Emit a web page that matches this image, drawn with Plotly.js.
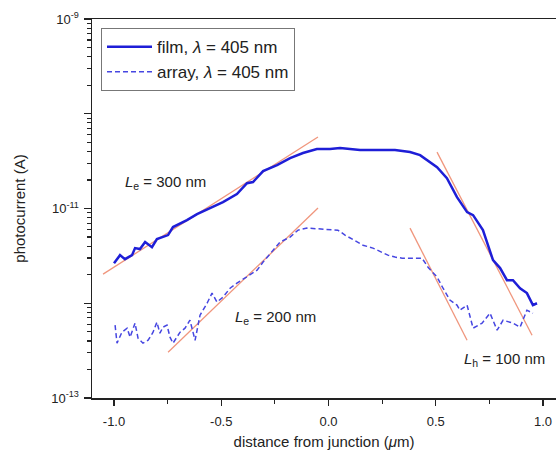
<!DOCTYPE html>
<html>
<head>
<meta charset="utf-8">
<script src="https://cdn.plot.ly/plotly-3.0.1.min.js"></script>
<style>html,body{margin:0;padding:0;background:#fff;}#chart{width:556px;height:455px;}</style>
</head>
<body>
<div id="chart"></div>
<script>
// distance from junction (µm) and photocurrent (A)
const filmX = [-1.000,-0.972,-0.949,-0.916,-0.902,-0.879,-0.855,-0.823,-0.800,-0.772,-0.748,-0.725,-0.660,-0.613,-0.552,-0.492,-0.427,-0.380,-0.352,-0.305,-0.240,-0.179,-0.119,-0.054,0.007,0.054,0.147,0.240,0.310,0.380,0.427,0.506,0.552,0.599,0.646,0.674,0.720,0.767,0.800,0.832,0.860,0.893,0.925,0.953,0.972];
const filmY = [2.65e-12,3.22e-12,2.92e-12,3.22e-12,3.82e-12,3.73e-12,4.42e-12,3.91e-12,4.75e-12,4.99e-12,5.24e-12,6.37e-12,7.54e-12,8.73e-12,1.01e-11,1.17e-11,1.42e-11,1.85e-11,1.90e-11,2.48e-11,2.87e-11,3.40e-11,3.85e-11,4.24e-11,4.24e-11,4.35e-11,4.14e-11,4.14e-11,4.14e-11,3.94e-11,3.66e-11,2.73e-11,2.09e-11,1.32e-11,9.16e-12,8.51e-12,5.91e-12,2.85e-12,2.35e-12,1.75e-12,1.75e-12,1.44e-12,1.28e-12,9.55e-13,1.00e-12];

const arrayX = [-0.995,-0.986,-0.963,-0.939,-0.925,-0.902,-0.888,-0.865,-0.841,-0.818,-0.800,-0.786,-0.772,-0.753,-0.739,-0.725,-0.692,-0.669,-0.646,-0.622,-0.599,-0.566,-0.543,-0.520,-0.492,-0.459,-0.427,-0.380,-0.333,-0.305,-0.226,-0.179,-0.142,-0.100,-0.026,0.044,0.077,0.161,0.207,0.277,0.310,0.343,0.394,0.436,0.464,0.506,0.534,0.566,0.599,0.613,0.646,0.674,0.716,0.753,0.786,0.814,0.860,0.893,0.925,0.953];
const arrayY = [5.87e-13,3.79e-13,4.95e-13,5.46e-13,4.39e-13,6.17e-13,4.28e-13,3.79e-13,4.07e-13,4.95e-13,6.31e-13,4.83e-13,5.58e-13,5.87e-13,4.39e-13,3.79e-13,4.95e-13,5.46e-13,6.62e-13,4.07e-13,7.48e-13,1.00e-12,1.28e-12,1.03e-12,1.16e-12,1.44e-12,1.63e-12,1.89e-12,2.23e-12,2.72e-12,4.42e-12,4.99e-12,5.91e-12,6.21e-12,6.05e-12,5.91e-12,5.24e-12,4.10e-12,3.82e-12,3.22e-12,3.07e-12,2.99e-12,2.99e-12,2.99e-12,2.40e-12,1.89e-12,1.44e-12,1.08e-12,9.55e-13,8.45e-13,9.55e-13,5.46e-13,6.17e-13,7.85e-13,5.20e-13,6.62e-13,6.17e-13,5.58e-13,8.45e-13,7.85e-13];

// exponential fit lines (end points)
const fitFilmLeftX = [-1.051, -0.049];
const fitFilmLeftY = [2.03e-12, 5.68e-11];
const fitArrayLeftX = [-0.748, -0.049];
const fitArrayLeftY = [3.04e-13, 1.01e-11];
const fitFilmRightX = [0.506, 0.949];
const fitFilmRightY = [3.94e-11, 4.60e-13];
const fitArrayRightX = [0.380, 0.646];
const fitArrayRightY = [6.21e-12, 4.07e-13];

const xTickVals = [-1.0, -0.5, 0.0, 0.5, 1.0];
const xTickText = ['-1.0', '-0.5', '0.0', '0.5', '1.0'];
const yTickVals = [1e-13, 1e-12, 1e-11, 1e-10, 1e-9];
const yTickText = ['10<sup>-13</sup>', '', '10<sup>-11</sup>', '', '10<sup>-9</sup>'];

const legendNames = ['film, <i>λ</i> = 405 nm', 'array, <i>λ</i> = 405 nm'];

const FONT = 'Liberation Sans, Arial, sans-serif';
const fitColor = 'rgb(240,150,125)';

const yMinor = [];
for (let e = -13; e < -9; e++) {
  for (let m = 2; m <= 9; m++) yMinor.push(m * Math.pow(10, e));
}

const traces = [
  {x: fitFilmLeftX, y: fitFilmLeftY, mode: 'lines', line: {color: fitColor, width: 1.3}, showlegend: false, hoverinfo: 'skip'},
  {x: fitArrayLeftX, y: fitArrayLeftY, mode: 'lines', line: {color: fitColor, width: 1.3}, showlegend: false, hoverinfo: 'skip'},
  {x: fitFilmRightX, y: fitFilmRightY, mode: 'lines', line: {color: fitColor, width: 1.3}, showlegend: false, hoverinfo: 'skip'},
  {x: fitArrayRightX, y: fitArrayRightY, mode: 'lines', line: {color: fitColor, width: 1.3}, showlegend: false, hoverinfo: 'skip'},
  {x: filmX, y: filmY, name: legendNames[0], mode: 'lines', line: {color: 'rgb(30,30,215)', width: 2.5}},
  {x: arrayX, y: arrayY, name: legendNames[1], mode: 'lines', line: {color: 'rgb(70,70,225)', width: 1.5, dash: '5px,3px'}}
];

const layout = {
  width: 556, height: 455,
  margin: {l: 92, r: 0, t: 19, b: 57},
  paper_bgcolor: '#fff', plot_bgcolor: '#fff',
  font: {family: FONT, color: '#222', size: 12},
  showlegend: true,
  legend: {
    x: 0.0194, y: 0.976, xanchor: 'left', yanchor: 'top',
    bordercolor: '#777', borderwidth: 1, bgcolor: '#fff',
    font: {family: FONT, size: 17, color: '#222'},
    itemwidth: 45
  },
  xaxis: {
    range: [-1.1026, 1.0606],
    showgrid: false, zeroline: false,
    showline: true, linecolor: '#222', linewidth: 1.5, mirror: true,
    ticks: 'outside', ticklen: 6, tickwidth: 1.3, tickcolor: '#222',
    tickmode: 'array', tickvals: xTickVals, ticktext: xTickText,
    tickfont: {family: FONT, size: 13, color: '#222'},
    ticklabelstandoff: 5,
    minor: {tickvals: [-0.75, -0.25, 0.25, 0.75], ticks: 'outside', ticklen: 4, tickwidth: 1.2, tickcolor: '#222'},
    title: {text: 'distance from junction (<i>μ</i>m)', font: {family: FONT, size: 15, color: '#222'}, standoff: 8}
  },
  yaxis: {
    type: 'log', range: [-13, -9],
    showgrid: false, zeroline: false,
    showline: true, linecolor: '#222', linewidth: 1.5,
    ticks: 'outside', ticklen: 7, tickwidth: 1.3, tickcolor: '#222',
    tickmode: 'array', tickvals: yTickVals, ticktext: yTickText,
    tickfont: {family: FONT, size: 13, color: '#222'},
    ticklabelstandoff: 2,
    minor: {tickvals: yMinor, ticks: 'outside', ticklen: 4, tickwidth: 1.1, tickcolor: '#222'},
    title: {text: 'photocurrent (A)', font: {family: FONT, size: 15, color: '#222'}, standoff: 22}
  },
  annotations: [
    {x: -0.958, y: -10.721, xref: 'x', yref: 'y', xanchor: 'left', yanchor: 'middle', showarrow: false,
     text: '<i>L</i><sub>e</sub> = 300 nm', font: {family: FONT, size: 15, color: '#222'}},
    {x: -0.445, y: -12.147, xref: 'x', yref: 'y', xanchor: 'left', yanchor: 'middle', showarrow: false,
     text: '<i>L</i><sub>e</sub> = 200 nm', font: {family: FONT, size: 15, color: '#222'}},
    {x: 0.622, y: -12.590, xref: 'x', yref: 'y', xanchor: 'left', yanchor: 'middle', showarrow: false,
     text: '<i>L</i><sub>h</sub> = 100 nm', font: {family: FONT, size: 15, color: '#222'}}
  ]
};

Plotly.newPlot('chart', traces, layout, {displayModeBar: false, staticPlot: true});
</script>
</body>
</html>
